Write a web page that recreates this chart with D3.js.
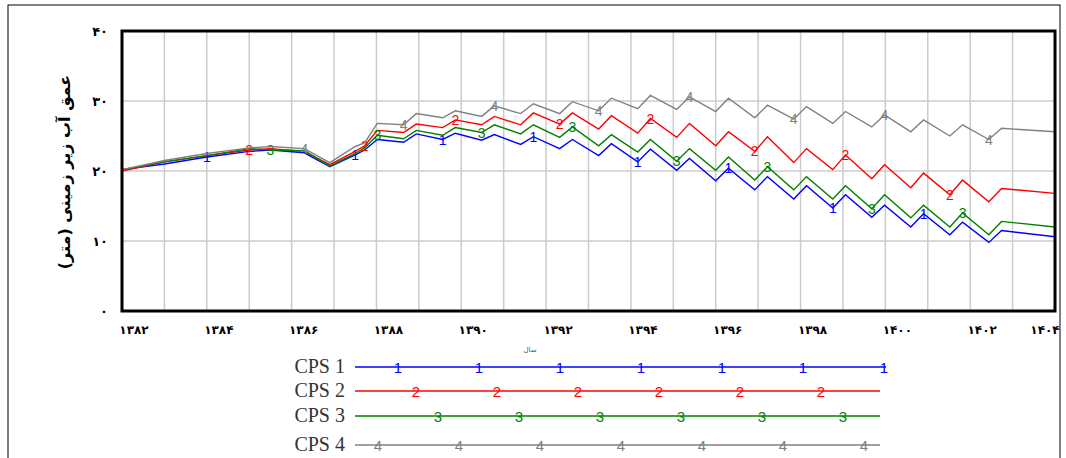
<!DOCTYPE html>
<html><head><meta charset="utf-8">
<script src="https://cdn.jsdelivr.net/npm/d3@7"></script>
<style>body{margin:0;background:#fff}</style></head>
<body><svg id="c" width="1066" height="458"></svg>
<script>
const times = [1382,1383,1384,1385,1385.5,1386.3,1386.9,1387.5,
 1387.72,1388.02,1388.64,1388.94,1389.56,1389.86,1390.48,1390.78,
 1391.40,1391.70,1392.32,1392.62,1393.24,1393.54,1394.16,1394.46,1395.08,1395.38,
 1396.00,1396.30,1396.92,1397.22,1397.84,1398.14,1398.76,1399.06,1399.68,1399.98,
 1400.60,1400.90,1401.52,1401.82,1402.44,1402.74,1404];
const cps1 = [20.2,21.0,22.0,22.8,23.0,22.6,20.6,22.3,
 23.0,24.5,24.1,25.3,24.5,25.4,24.4,25.2,
 23.8,24.9,23.2,24.5,22.2,23.9,21.3,23.1,20.1,21.8,18.6,20.4,17.3,19.2,16.0,17.9,14.7,16.6,13.4,15.1,12.0,13.9,10.9,12.7,9.8,11.5,10.6];
const cps2 = [20.0,21.3,22.2,23.0,23.2,22.8,20.9,22.8,
 23.6,25.8,25.5,26.7,26.2,27.3,26.6,27.8,
 26.6,28.3,26.7,28.3,26.0,27.9,25.4,27.5,24.8,26.8,23.6,25.6,22.8,24.9,21.2,23.2,20.2,22.3,18.9,20.9,17.6,19.7,16.6,18.7,15.6,17.5,16.8];
const cps3 = [20.2,21.3,22.2,23.2,23.0,22.9,20.7,22.5,
 23.3,25.1,24.6,25.8,25.1,26.2,25.5,26.6,
 25.3,26.6,24.8,26.3,23.6,25.2,22.7,24.5,21.4,23.2,20.1,22.0,18.7,20.6,17.3,19.2,16.0,17.9,14.6,16.6,13.3,15.1,12.0,14.0,10.9,12.8,12.0];
const cps4 = [20.2,21.5,22.5,23.3,23.5,23.2,21.2,23.5,
 24.0,26.8,26.6,28.2,27.6,28.6,27.8,29.3,
 28.2,29.6,28.2,29.9,28.6,30.4,28.9,30.8,28.8,30.6,28.5,30.4,27.6,29.4,27.4,29.2,26.8,28.5,26.3,28.0,25.6,27.3,25.0,26.6,24.5,26.1,25.6];
const seriesNames = ["CPS 1","CPS 2","CPS 3","CPS 4"];
const markers = ["1","2","3","4"];
const colors = ["#0000ff","#ff0000","#008000","#808080"];
const yTicks = [0,10,20,30,40];
const yTickLabels = ["۰","۱۰","۲۰","۳۰","۴۰"];
const xTicks = [1382,1384,1386,1388,1390,1392,1394,1396,1398,1400,1402,1404];
const fa = n => String(n).replace(/\d/g, d => "۰۱۲۳۴۵۶۷۸۹"[d]);

const svg = d3.select("#c");
svg.append("rect").attr("x",8).attr("y",5).attr("width",1052).attr("height",470)
  .attr("fill","none").attr("stroke","#000").attr("stroke-width",1);
const L=122,R=1055,T=31,B=311;
const x = d3.scaleLinear().domain([1382,1404]).range([L,R]);
const y = d3.scaleLinear().domain([0,40]).range([B,T]);
const g = svg.append("g");
d3.range(1383,1404).forEach(v=>g.append("line").attr("x1",x(v)).attr("x2",x(v)).attr("y1",T).attr("y2",B).attr("stroke","#ccc").attr("stroke-width",1.5));
[10,20,30].forEach(v=>g.append("line").attr("x1",L).attr("x2",R).attr("y1",y(v)).attr("y2",y(v)).attr("stroke","#ccc").attr("stroke-width",1.5));
const data=[cps1,cps2,cps3,cps4];
const line=d3.line().x((d,i)=>x(times[i])).y(d=>y(d));
data.forEach((s,k)=>{
  g.append("path").datum(s).attr("d",line).attr("fill","none").attr("stroke",colors[k]).attr("stroke-width",1.4);
  for(let i=2+k;i<times.length-1;i+=5){
    g.append("text").attr("x",x(times[i])).attr("y",y(s[i])+5).attr("text-anchor","middle")
     .attr("font-family","Liberation Sans").attr("font-size",14).attr("fill",colors[k]).text(markers[k]);
  }
});
g.append("rect").attr("x",L).attr("y",T).attr("width",R-L).attr("height",B-T).attr("fill","none").attr("stroke","#000").attr("stroke-width",3);
yTicks.forEach((v,i)=>g.append("text").attr("x",108).attr("y",y(v)+5).attr("text-anchor","end")
  .attr("font-family","DejaVu Sans").attr("font-weight","bold").attr("font-size",13).text(yTickLabels[i]));
xTicks.forEach(v=>g.append("text").attr("x",x(v)+(v===1404?-10:12)).attr("y",334).attr("text-anchor","middle")
  .attr("font-family","DejaVu Sans").attr("font-weight","bold").attr("font-size",12).text(fa(v)));
svg.append("text").attr("transform","translate(70,172) rotate(-90)").attr("text-anchor","middle")
  .attr("font-family","DejaVu Sans").attr("font-weight","bold").attr("font-size",16).attr("direction","rtl").text("عمق آب زیر زمینی (متر)");
svg.append("text").attr("x",530).attr("y",352).attr("text-anchor","middle").attr("font-family","DejaVu Sans").attr("font-size",7).attr("fill","#555").text("سال");
const legY=[367,391,416,445];
seriesNames.forEach((n,k)=>{
  const lg=svg.append("g");
  lg.append("text").attr("x",345).attr("y",legY[k]+6).attr("text-anchor","end").attr("font-family","Liberation Serif").attr("font-size",20).attr("fill","#333").text(n);
  const x2 = k===0?886:880;
  lg.append("line").attr("x1",355).attr("x2",x2).attr("y1",legY[k]).attr("y2",legY[k]).attr("stroke",colors[k]).attr("stroke-width",1.5);
  const start=[398,416,438,378][k];
  for(let xx=start;xx<=x2+1;xx+=81){
    lg.append("text").attr("x",xx).attr("y",legY[k]+6).attr("text-anchor","middle").attr("font-family","Liberation Sans").attr("font-size",15).attr("fill",colors[k]).text(markers[k]);
  }
});
</script></body></html>
